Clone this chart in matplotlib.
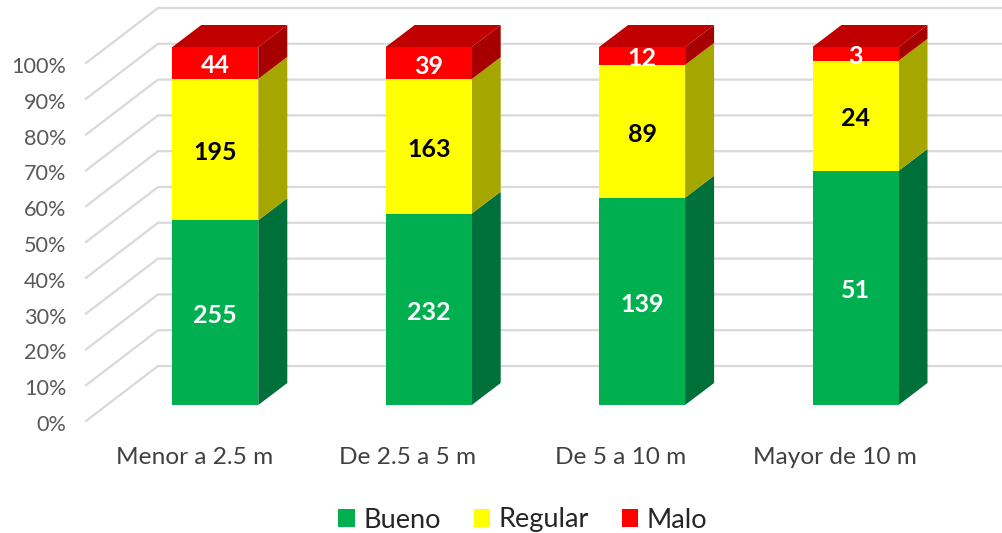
import matplotlib
matplotlib.use("Agg")
import matplotlib.pyplot as plt
import matplotlib.transforms as mtrans
from matplotlib.patches import Polygon, Patch
import numpy as np

plt.rcParams['font.family'] = ['Lato', 'DejaVu Sans']

categorias = ['Menor a 2.5 m', 'De 2.5 a 5 m', 'De 5 a 10 m', 'Mayor de 10 m']
bueno = [255, 232, 139, 51]
regular = [195, 163, 89, 24]
malo = [44, 39, 12, 3]
ticks_pct = [0, 10, 20, 30, 40, 50, 60, 70, 80, 90, 100]

# tamanos en pixeles de la figura
W, H = 1003, 533
IZQ, ABAJO, ARRIBA = 70, 405, 47
X0, PASO = 215.3, 213.4
ANCHO_BARRA = 86

fig = plt.figure(figsize=(W / 100, H / 100), dpi=100)
ax = fig.add_axes([IZQ / W, 1 - ABAJO / H, (W - IZQ) / W, (ABAJO - ARRIBA) / H])
ax.set_xlim((IZQ - X0) / PASO, (W - X0) / PASO)
ax.set_ylim(0, 100)
for s in ax.spines.values():
    s.set_visible(False)
ax.patch.set_visible(False)

# unidades de datos por pixel
ux = 1 / PASO
uy = 100 / (ABAJO - ARRIBA)
fondo_x, fondo_y = 29 * ux, 22 * uy

# piso y pared: linea diagonal y luego horizontal
for t in ticks_pct:
    xs = [(86 - X0) * ux, (158 - X0) * ux, (W - X0) * ux]
    ys = [t - 16 * uy, t + 39 * uy, t + 39 * uy]
    ax.plot(xs, ys, color='#d9d9d9', lw=1.6, clip_on=False, zorder=1)

totales = np.array(bueno) + np.array(regular) + np.array(malo)
series = [
    ('Bueno', bueno, '#00b050', '#00703a', 'white'),
    ('Regular', regular, '#ffff00', '#a6a600', 'black'),
    ('Malo', malo, '#ff0000', '#a60000', 'white'),
]
pos = np.arange(len(categorias))
ancho = ANCHO_BARRA * ux
base = np.zeros(len(categorias))
for nombre, valores, color, lado, color_txt in series:
    alto = np.array(valores) / totales * 100
    ax.bar(pos, alto, ancho, bottom=base, color=color, zorder=3, clip_on=False)
    for i in range(len(pos)):
        der = pos[i] + ancho / 2
        y0, y1 = base[i], base[i] + alto[i]
        ax.add_patch(Polygon([(der, y0), (der + fondo_x, y0 + fondo_y),
                              (der + fondo_x, y1 + fondo_y), (der, y1)],
                             facecolor=lado, edgecolor='none', zorder=2.5, clip_on=False))
        ax.text(pos[i], y0 + alto[i] / 2 - 3 * uy, str(valores[i]), color=color_txt, ha='center',
                va='center', fontsize=18, fontweight='bold', zorder=5)
    base = base + alto

# tapa de cada barra
for i in range(len(pos)):
    izq, der = pos[i] - ancho / 2, pos[i] + ancho / 2
    ax.add_patch(Polygon([(izq, 100), (der, 100), (der + fondo_x, 100 + fondo_y),
                          (izq + fondo_x, 100 + fondo_y)],
                         facecolor='#c00000', edgecolor='none', zorder=2.6, clip_on=False))

ax.set_xticks(pos)
ax.set_xticklabels(categorias, fontsize=17.6, color='#404040')
ax.tick_params(axis='x', length=0, pad=30.5)
ax.set_yticks(ticks_pct)
ax.set_yticklabels([str(t) + '%' for t in ticks_pct], fontsize=15.6, color='#595959')
ax.tick_params(axis='y', length=0, pad=2.8)
baja = mtrans.ScaledTranslation(0, -18 / 100, fig.dpi_scale_trans)
for lab in ax.get_yticklabels():
    lab.set_transform(lab.get_transform() + baja)
# las etiquetas de categoria van corridas a la izquierda de las barras
corre = mtrans.ScaledTranslation(-21 / 100, 0, fig.dpi_scale_trans)
for lab in ax.get_xticklabels():
    lab.set_transform(lab.get_transform() + corre)

handles = [Patch(facecolor=s[2], label=s[0]) for s in series]
fig.legend(handles=handles, loc='center', bbox_to_anchor=(523 / W, 1 - 520 / H), ncol=3,
           frameon=False, fontsize=19.5, handlelength=0.6, handleheight=0.6,
           handletextpad=0.33, columnspacing=1.2, labelcolor='#262626')

fig.savefig('out.png', dpi=100)
